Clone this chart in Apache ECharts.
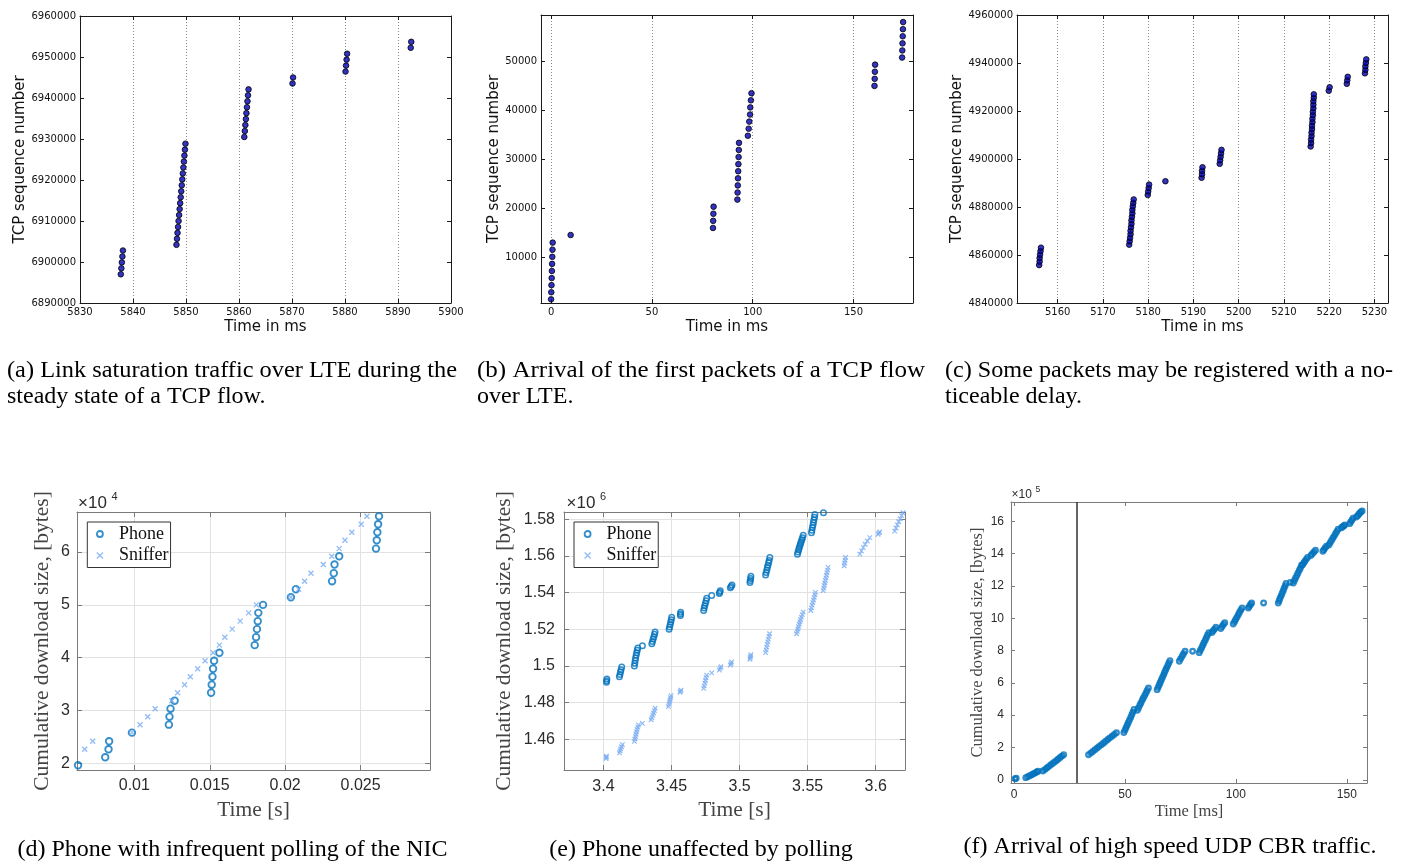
<!DOCTYPE html>
<html><head><meta charset="utf-8">
<script src="https://cdn.jsdelivr.net/npm/echarts@6/dist/echarts.min.js"></script>
<style>html,body{margin:0;padding:0;background:#fff}#c{width:1406px;height:865px}</style>
</head><body><div id="c"></div>
<script>
// ================= DATA =================
// (a) Link saturation traffic over LTE: [time ms, TCP sequence number]
const dataA = [
 [5837.7,6897000],[5837.8,6898450],[5837.9,6899900],[5838.0,6901350],[5838.1,6902800],
 [5848.2,6904200],[5848.3,6905650],[5848.4,6907100],[5848.5,6908550],[5848.6,6910000],[5848.7,6911450],
 [5848.8,6912900],[5848.9,6914350],[5849.0,6915800],[5849.1,6917250],[5849.2,6918700],[5849.3,6920150],
 [5849.4,6921600],[5849.5,6923050],[5849.6,6924500],[5849.7,6925950],[5849.8,6927400],[5849.9,6928850],
 [5861.0,6930500],[5861.1,6931950],[5861.2,6933400],[5861.3,6934850],[5861.4,6936300],[5861.5,6937750],
 [5861.6,6939200],[5861.7,6940650],[5861.8,6942100],
 [5870.1,6943550],[5870.2,6945000],
 [5880.1,6946450],[5880.2,6947900],[5880.3,6949350],[5880.4,6950800],
 [5892.4,6952250],[5892.5,6953700]
];
// (b) First packets of a TCP flow
const dataB = [
 [0.0,1350],[0.1,2800],[0.2,4250],[0.3,5700],[0.4,7150],[0.5,8600],[0.6,10050],[0.7,11500],[0.8,12950],
 [9.7,14500],
 [80.3,15950],[80.4,17400],[80.5,18850],[80.6,20300],
 [92.4,21750],[92.5,23200],[92.6,24650],[92.7,26100],[92.8,27550],[92.9,29000],[93.0,30450],[93.1,31900],[93.2,33350],
 [97.6,34800],[98.0,36250],[98.3,37700],[98.7,39150],[98.8,40600],[99.1,42050],[99.4,43500],
 [160.4,45000],[160.5,46450],[160.6,47900],[160.7,49350],
 [174.1,50800],[174.2,52250],[174.3,53700],[174.4,55150],[174.5,56600],[174.6,58050]
];
// (c) Delayed registration
const dataC = [
 [5155.9,4855800],[5156.0,4857250],[5156.0,4858700],[5156.1,4860150],[5156.2,4861600],[5156.3,4863050],
 [5175.8,4864300],[5175.9,4865750],[5176.0,4867200],[5176.1,4868650],[5176.1,4870100],[5176.2,4871550],[5176.3,4873000],
 [5176.3,4874450],[5176.4,4875900],[5176.5,4877350],[5176.5,4878800],[5176.6,4880250],[5176.7,4881700],[5176.8,4883150],
 [5179.9,4885000],[5180.0,4886450],[5180.1,4887900],[5180.2,4889350],
 [5183.8,4890750],
 [5191.8,4892200],[5191.9,4893650],[5191.9,4895100],[5192.0,4896550],
 [5195.8,4898000],[5195.9,4899450],[5196.0,4900900],[5196.1,4902350],[5196.2,4903800],
 [5215.9,4905200],[5216.0,4906650],[5216.0,4908100],[5216.1,4909550],[5216.1,4911000],[5216.2,4912450],[5216.2,4913900],
 [5216.3,4915350],[5216.3,4916800],[5216.4,4918250],[5216.4,4919700],[5216.5,4921150],[5216.5,4922600],[5216.5,4924050],
 [5216.6,4925500],[5216.6,4926950],
 [5219.9,4928450],[5220.1,4929900],
 [5223.9,4931350],[5224.0,4932800],[5224.1,4934250],
 [5227.9,4935700],[5228.0,4937150],[5228.0,4938600],[5228.1,4940050],[5228.2,4941500]
];
// (d) Phone with infrequent polling: [time s, cumulative bytes]
const phoneD = [
 [0.00627,19620],[0.00807,21130],[0.00829,22650],[0.00833,24160],[0.00984,25800],[0.01229,27310],[0.01233,28820],
 [0.0124,30330],[0.01267,31840],[0.01509,33350],[0.01513,34870],[0.01518,36380],[0.01522,37890],[0.01529,39400],
 [0.01564,40910],[0.01798,42360],[0.01807,43870],[0.01813,45390],[0.01818,46900],[0.01822,48470],[0.01853,49980],
 [0.02038,51430],[0.02071,52940],[0.02311,54460],[0.02322,55970],[0.02327,57610],[0.02358,59180],[0.02602,60630],
 [0.02607,62200],[0.02611,63720],[0.02616,65230],[0.02622,66740]
];
const snifferD = [
 [0.00671,22650],[0.00724,24160],[0.00984,25800],[0.01038,27310],[0.01089,28820],[0.01138,30330],[0.01249,31840],
 [0.01287,33350],[0.01333,34870],[0.01371,36380],[0.0142,37890],[0.01469,39400],[0.01522,40910],[0.01564,42360],
 [0.016,43870],[0.01649,45390],[0.01702,46900],[0.01758,48470],[0.01809,49980],[0.02038,51430],[0.02089,52940],
 [0.02129,54460],[0.02171,55970],[0.02253,57610],[0.02309,59180],[0.02358,60630],[0.02396,62200],[0.02442,63720],
 [0.02504,65230],[0.02542,66740]
];
// (e) Phone unaffected by polling
const phoneE = [
 [3.4022,1491200],[3.4023,1492000],[3.4025,1492900],
 [3.4117,1494100],[3.4121,1495400],[3.4125,1496700],[3.4129,1498000],[3.4134,1499500],
 [3.4227,1500000],[3.4230,1501500],[3.4233,1503000],[3.4236,1504400],[3.4240,1505900],[3.4244,1507300],[3.4248,1508600],[3.4252,1509800],[3.4286,1511100],
 [3.4355,1512200],[3.4360,1513400],[3.4365,1514700],[3.4370,1516000],[3.4375,1517300],[3.4379,1518500],
 [3.4482,1520000],[3.4486,1521300],[3.4490,1522600],[3.4494,1524000],[3.4498,1525300],[3.4501,1526600],
 [3.4565,1527500],[3.4566,1528400],[3.4567,1529300],
 [3.4736,1530300],[3.4740,1531600],[3.4744,1532900],[3.4749,1534300],[3.4754,1535600],[3.4758,1537000],[3.4795,1538400],
 [3.4851,1539500],[3.4854,1540300],[3.4858,1541100],
 [3.4932,1542700],[3.4938,1543400],[3.4944,1544200],
 [3.5076,1545600],[3.5078,1546700],[3.5081,1547800],[3.5083,1548900],
 [3.5191,1549600],[3.5195,1551000],[3.5200,1552400],[3.5204,1553700],[3.5208,1555000],[3.5213,1556300],[3.5217,1557600],[3.5222,1559200],
 [3.5425,1561000],[3.5429,1562200],[3.5434,1563400],[3.5438,1564500],[3.5443,1565600],[3.5447,1566700],[3.5452,1567800],[3.5457,1568900],[3.5462,1570000],[3.5467,1571300],
 [3.5528,1572700],[3.5531,1574100],[3.5535,1575500],[3.5539,1576900],[3.5542,1578300],[3.5546,1579700],[3.5550,1581100],[3.5553,1582700],
 [3.5616,1583600]
];
const snifferE = [
 [3.4019,1449500],[3.4020,1450200],[3.4022,1450800],
 [3.4117,1452600],[3.4122,1453700],[3.4127,1454800],[3.4133,1456000],[3.4139,1457100],
 [3.4227,1458900],[3.4231,1460200],[3.4235,1461500],[3.4239,1462800],[3.4243,1464100],[3.4247,1465400],[3.4252,1466700],[3.4257,1467900],[3.4286,1468700],
 [3.4350,1470700],[3.4356,1471900],[3.4362,1473200],[3.4368,1474400],[3.4374,1475700],[3.4379,1477000],
 [3.4477,1477900],[3.4481,1479100],[3.4485,1480300],[3.4489,1481500],[3.4493,1482700],[3.4496,1483900],
 [3.4562,1485700],[3.4566,1486300],[3.4570,1486900],
 [3.4736,1487800],[3.4740,1489200],[3.4745,1490700],[3.4749,1492100],[3.4754,1493600],[3.4758,1495000],[3.4795,1496300],
 [3.4851,1497800],[3.4857,1498700],[3.4863,1499600],
 [3.4932,1500500],[3.4937,1501400],[3.4941,1502300],
 [3.5076,1503700],[3.5078,1504600],[3.5081,1505400],[3.5083,1506200],
 [3.5191,1507300],[3.5195,1508800],[3.5199,1510300],[3.5203,1511800],[3.5207,1513200],[3.5211,1514700],[3.5216,1516200],[3.5220,1517600],
 [3.5418,1517600],[3.5423,1518900],[3.5428,1520200],[3.5433,1521500],[3.5438,1522800],[3.5443,1524100],[3.5448,1525400],[3.5454,1526700],[3.5460,1528000],[3.5467,1529400],
 [3.5523,1530300],[3.5528,1531700],[3.5533,1533200],[3.5538,1534600],[3.5543,1536000],[3.5548,1537400],[3.5553,1538800],[3.5557,1540200],
 [3.5614,1541100],[3.5618,1542500],[3.5622,1543900],[3.5626,1545300],[3.5630,1546700],[3.5634,1548100],[3.5638,1549500],[3.5642,1550900],[3.5646,1552300],[3.5650,1553800],
 [3.5768,1554700],[3.5771,1556200],[3.5775,1557700],[3.5778,1559200],
 [3.5883,1561000],[3.5895,1562800],[3.5908,1564600],[3.5922,1566400],[3.5938,1568200],[3.5956,1570000],
 [3.6017,1571800],[3.6023,1572500],[3.6029,1573100],
 [3.6139,1573600],[3.6149,1575300],[3.6159,1577000],[3.6169,1578700],[3.6180,1580300],[3.6190,1582000],[3.6200,1583600]
];
// (f) High speed UDP CBR traffic: [time ms, cumulative bytes]
const udpF = [
 [0.5,6000],[1.0,9000],
 [5.3,13000],[6.2,19000],[7.1,25000],[8.0,31000],[8.8,37000],[9.6,43000],[10.3,48000],[10.8,53000],
 [13.0,54000],[13.9,63000],[14.8,72500],[15.6,81500],[16.5,91000],[17.4,100500],[18.3,110000],[19.2,119500],[20.0,128500],[20.8,137500],[21.6,146500],[22.4,155000],
 [33.6,155000],[34.6,165000],[35.5,175500],[36.5,186000],[37.5,196500],[38.4,207000],[39.4,217500],[40.4,228000],[41.3,238500],[42.3,249000],[43.2,259500],[44.2,270000],[45.2,280500],[46.2,291000],
 [49.5,292000],[50.0,307000],[50.5,322000],[51.0,338000],[51.5,353000],[52.0,369000],[52.6,386000],[53.1,403000],[53.6,419000],[54.1,435000],
 [55.6,430000],[56.1,445000],[56.7,461000],[57.2,476000],[57.8,492000],[58.3,507000],[58.9,522000],[59.5,538000],[60.0,553000],[60.6,568000],
 [64.5,558000],[65.0,573000],[65.5,588000],[65.9,603000],[66.4,618000],[66.9,633000],[67.4,648000],[67.8,663000],[68.3,678000],[68.8,693000],[69.3,708000],[69.8,723000],[70.3,738000],
 [74.5,734000],[75.1,749000],[75.8,765000],[76.4,780000],[77.1,796000],
 [80.5,796000],
 [83.5,787000],[84.0,802000],[84.6,818000],[85.1,833000],[85.6,849000],[86.2,864000],[86.7,879000],[87.2,895000],[87.8,910000],
 [89.2,912000],[89.8,923000],[90.4,933000],[91.0,944000],
 [93.2,937000],[93.8,949000],[94.4,961000],[95.0,973000],
 [98.8,965000],[99.4,979000],[99.9,993000],[100.5,1007000],[101.1,1022000],[101.6,1036000],[102.2,1050000],[102.8,1064000],
 [105.6,1064000],[106.1,1074000],[106.6,1085000],[107.1,1095000],
 [112.5,1095000],
 [119.1,1094000],[119.5,1109000],[119.9,1124000],[120.4,1139000],[120.8,1154000],[121.3,1169000],[121.7,1184000],[122.2,1200000],[122.6,1215000],
 [124.6,1222000],
 [125.9,1218000],[126.4,1234000],[126.9,1250000],[127.5,1265000],[128.0,1281000],[128.6,1297000],[129.1,1312000],[129.6,1328000],
 [130.0,1330000],[130.6,1342000],[131.1,1353000],[131.7,1365000],[132.3,1376000],
 [133.8,1389000],[134.5,1400000],[135.2,1410000],[135.9,1421000],
 [139.2,1415000],[139.7,1425000],[140.2,1436000],[140.8,1446000],
 [141.9,1454000],[142.5,1468000],[143.1,1482000],[143.7,1496000],[144.3,1509000],[144.9,1523000],[145.5,1537000],[146.1,1551000],
 [147.6,1561000],[148.1,1567000],[148.6,1572000],[149.1,1578000],
 [151.3,1586000],[151.8,1597000],[152.3,1608000],[152.8,1619000],
 [154.3,1627000],[154.9,1635000],[155.4,1644000],[155.9,1652000],[156.4,1659000],[156.9,1665000]
];
const eventTimeF = 28.5;

// tick values
const ticksAX = [5830,5840,5850,5860,5870,5880,5890,5900];
const ticksAY = [6890000,6900000,6910000,6920000,6930000,6940000,6950000,6960000];
const ticksBX = [0,50,100,150];
const ticksBY = [10000,20000,30000,40000,50000];
const ticksCX = [5160,5170,5180,5190,5200,5210,5220,5230];
const ticksCY = [4840000,4860000,4880000,4900000,4920000,4940000,4960000];
const ticksDX = [0.01,0.015,0.02,0.025];
const ticksDY = [20000,30000,40000,50000,60000];
const ticksEX = [3.4,3.45,3.5,3.55,3.6];
const ticksEY = [1460000,1480000,1500000,1520000,1540000,1560000,1580000];
const ticksFX = [0,50,100,150];
const ticksFY = [0,200000,400000,600000,800000,1000000,1200000,1400000,1600000];

// ================= LAYOUT / STYLE =================
const clean = v => String(Number(Number(v).toPrecision(6)));
const STY = {
  mpl: {axis:'#1a1a1a', label:{fontFamily:'DejaVu Sans', fontSize:10, color:'#111'},
        name:{fontFamily:'DejaVu Sans', fontSize:15, color:'#111'}, tick:4},
  mat: {axis:'#7a7a7a', label:{fontFamily:'Liberation Sans', fontSize:16, color:'#2b2b2b'},
        name:{fontFamily:'Liberation Serif', fontSize:21.5, color:'#444'}, tick:5},
  matS:{axis:'#7a7a7a', label:{fontFamily:'Liberation Sans', fontSize:12, color:'#2b2b2b'},
        name:{fontFamily:'Liberation Serif', fontSize:16.5, color:'#444'}, tick:4}
};
const panels = [
 {grid:{left:80,top:16,width:371,height:287}, st:'mpl',
  x:{min:5830,max:5900,ticks:ticksAX,name:'Time in ms',gap:17,margin:4,grid:'dotted'},
  y:{min:6890000,max:6960000,ticks:ticksAY,name:'TCP sequence number',gap:52,margin:4}},
 {grid:{left:541,top:15,width:372,height:288}, st:'mpl',
  x:{min:-5,max:179.5,ticks:ticksBX,name:'Time in ms',gap:17,margin:4,grid:'dotted'},
  y:{min:600,max:59500,ticks:ticksBY,name:'TCP sequence number',gap:39.5,margin:4}},
 {grid:{left:1017,top:15,width:371,height:288}, st:'mpl',
  x:{min:5151,max:5233,ticks:ticksCX,name:'Time in ms',gap:17,margin:4,grid:'dotted'},
  y:{min:4840000,max:4960000,ticks:ticksCY,name:'TCP sequence number',gap:52,margin:4}},
 {grid:{left:77,top:512,width:353,height:258}, st:'mat',
  x:{min:0.0062,max:0.0296,ticks:ticksDX,name:'Time [s]',gap:29,margin:8,grid:'solid'},
  y:{min:18730,max:67560,ticks:ticksDY,name:'Cumulative download size, [bytes]',gap:23.5,margin:7,grid:'solid',fmt:v=>clean(v/1e4)}},
 {grid:{left:564,top:512,width:341,height:258}, st:'mat',
  x:{min:3.371,max:3.6215,ticks:ticksEX,name:'Time [s]',gap:29,margin:8.5,grid:'solid'},
  y:{min:1443300,max:1584000,ticks:ticksEY,name:'Cumulative download size, [bytes]',gap:48.5,margin:9,grid:'solid',fmt:v=>clean(v/1e6)}},
 {grid:{left:1011,top:502,width:356,height:281}, st:'matS',
  x:{min:-1.35,max:159.1,ticks:ticksFX,name:'Time [ms]',gap:20,margin:6},
  y:{min:-20000,max:1720000,ticks:ticksFY,name:'Cumulative download size, [bytes]',gap:25,margin:7,fmt:v=>clean(v/1e5)}}
];

function axis(dim, a, s, gi, primary){
  return {
    type:'value', gridIndex:gi, min:a.min, max:a.max,
    position: dim==='x' ? (primary?'bottom':'top') : (primary?'left':'right'),
    axisLine:{show:true, onZero:false, lineStyle:{color:s.axis, width:1}},
    axisTick:{show:true, inside:true, length:s.tick, customValues:a.ticks, lineStyle:{color:s.axis, width:1}},
    axisLabel:Object.assign({show:primary, customValues:a.ticks, margin:a.margin, formatter:a.fmt || clean}, s.label),
    splitLine:{show: primary && !!a.grid,
      lineStyle: a.grid==='dotted' ? {color:'#8a8a8a', type:[1,2], width:1} : {color:'#e2e2e2', width:1}},
    name: primary ? a.name : '', nameLocation:'middle', nameGap:a.gap,
    nameTextStyle:Object.assign({}, s.name)
  };
}
const grids=[], xAxes=[], yAxes=[];
panels.forEach((p,gi)=>{
  const s = STY[p.st];
  grids.push(Object.assign({outerBoundsMode:'none', containLabel:false}, p.grid));
  xAxes.push(axis('x',p.x,s,gi,true), axis('x',p.x,s,gi,false));
  yAxes.push(axis('y',p.y,s,gi,true), axis('y',p.y,s,gi,false));
});

const XSYM = 'path://M0,0L10,10M10,0L0,10';
const PHONE = '#0072BD', SNIFF = '#76AAF2', CLEAR = 'rgba(0,0,0,0)';
const dot = {type:'scatter', symbol:'circle', symbolSize:5.6, silent:true, emphasis:{disabled:true},
  itemStyle:{color:'#0000b4', borderColor:'#000', borderWidth:1}};
const series = [
  Object.assign({xAxisIndex:0, yAxisIndex:0, data:dataA}, dot),
  Object.assign({xAxisIndex:2, yAxisIndex:2, data:dataB}, dot),
  Object.assign({xAxisIndex:4, yAxisIndex:4, data:dataC}, dot),
  {type:'scatter', name:'Phone', xAxisIndex:6, yAxisIndex:6, data:phoneD, symbol:'circle', symbolSize:6.6, silent:true,
   itemStyle:{color:CLEAR, borderColor:PHONE, borderWidth:1.8}},
  {type:'scatter', name:'Sniffer', xAxisIndex:6, yAxisIndex:6, data:snifferD, symbol:XSYM, symbolSize:5, silent:true,
   itemStyle:{color:CLEAR, borderColor:SNIFF, borderWidth:1.3}},
  {type:'scatter', name:'Phone', xAxisIndex:8, yAxisIndex:8, data:phoneE, symbol:'circle', symbolSize:5.5, silent:true,
   itemStyle:{color:CLEAR, borderColor:PHONE, borderWidth:1.5}},
  {type:'scatter', name:'Sniffer', xAxisIndex:8, yAxisIndex:8, data:snifferE, symbol:XSYM, symbolSize:4.5, silent:true,
   itemStyle:{color:CLEAR, borderColor:SNIFF, borderWidth:1.2}},
  {type:'scatter', name:'UDP', xAxisIndex:10, yAxisIndex:10, data:udpF, symbol:'circle', symbolSize:4.6, silent:true,
   itemStyle:{color:CLEAR, borderColor:PHONE, borderWidth:2.3},
   markLine:{silent:true, symbol:['none','none'], label:{show:false}, animation:false,
     lineStyle:{color:'#333', width:1.5, type:'solid'}, data:[{xAxis:eventTimeF}]}}
];

function legendAt(left, padLeft){
  return {left:left, top:522, orient:'vertical', selectedMode:false,
    padding:[3,2,3,padLeft], itemGap:3.5, itemWidth:28, itemHeight:6,
    borderColor:'#333', borderWidth:1, backgroundColor:'#fff',
    textStyle:{fontFamily:'Liberation Serif', fontSize:18, color:'#111'},
    data:[{name:'Phone', icon:'circle', itemStyle:{color:CLEAR, borderColor:PHONE, borderWidth:1.8}},
          {name:'Sniffer', icon:XSYM, itemStyle:{color:CLEAR, borderColor:SNIFF, borderWidth:1.3}}]};
}

// captions & exponent labels
const mctx = document.createElement('canvas').getContext('2d');
const capFont = '24px "Liberation Serif"';
function capText(t, x, y, opt){
  opt = opt || {};
  let sx = 1;
  if (opt.fit){ mctx.font = capFont; sx = opt.fit / mctx.measureText(t).width; }
  return {type:'text', x:x, y:y, scaleX:sx, silent:true,
    style:{text:t, font:capFont, fill:'#000', align:opt.align||'left', verticalAlign:'middle',
           textAlign:opt.align||'left', textVerticalAlign:'middle'}};
}
function small(t, x, y, size, color){
  return {type:'text', x:x, y:y, silent:true,
    style:{text:t, font:size+'px "Liberation Sans"', fill:color||'#2b2b2b', align:'left', verticalAlign:'middle',
           textAlign:'left', textVerticalAlign:'middle'}};
}
const graphic = [
  capText('(a) Link saturation traffic over LTE during the', 7, 371, {fit:450}),
  capText('steady state of a TCP flow.', 7, 397),
  capText('(b) Arrival of the first packets of a TCP flow', 477, 371, {fit:448}),
  capText('over LTE.', 477, 397),
  capText('(c) Some packets may be registered with a no-', 945, 371, {fit:448}),
  capText('ticeable delay.', 945, 397),
  capText('(d) Phone with infrequent polling of the NIC', 232.5, 850, {align:'center'}),
  capText('(e) Phone unaffected by polling', 701, 850, {align:'center'}),
  capText('(f) Arrival of high speed UDP CBR traffic.', 1170, 847, {align:'center'}),
  small('\u00d710', 78, 503.5, 17), small('4', 111.5, 497, 11),
  small('\u00d710', 566.5, 503.5, 17), small('6', 600, 497, 11),
  small('\u00d710', 1011.5, 495, 12), small('5', 1035.5, 490, 8.5)
];

const chart = echarts.init(document.getElementById('c'), null, {renderer:'canvas', width:1406, height:865});
chart.setOption({
  animation:false, backgroundColor:'#fff',
  grid:grids, xAxis:xAxes, yAxis:yAxes, series:series,
  legend:[legendAt(87.3, 8.7), legendAt(574, 9.7)],
  graphic:graphic
});
</script></body></html>
